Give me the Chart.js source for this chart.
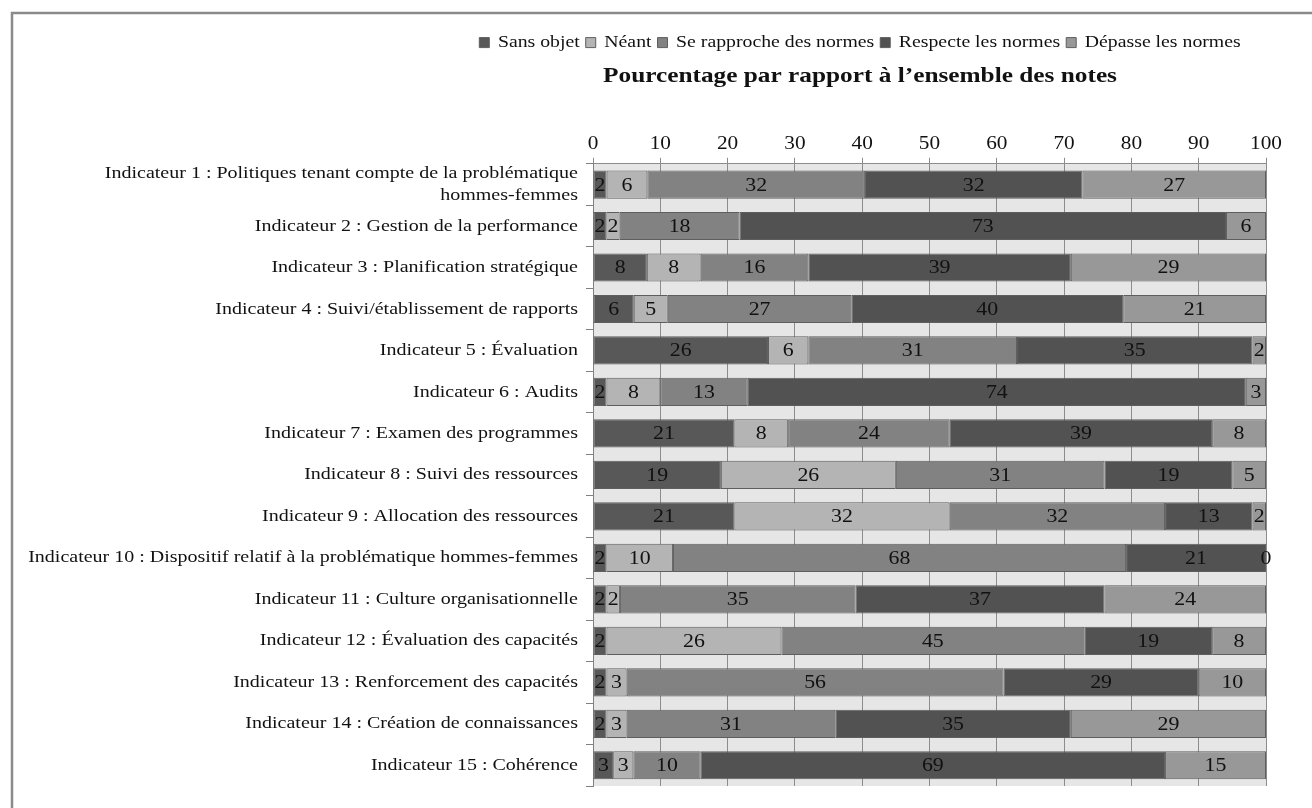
<!DOCTYPE html>
<html>
<head>
<meta charset="utf-8">
<script src="https://cdn.jsdelivr.net/npm/chart.js@4.4.1/dist/chart.umd.min.js"></script>
<style>
  html, body { margin: 0; padding: 0; background: #fff; }
  #wrap { width: 1312px; height: 808px; position: relative; }
</style>
</head>
<body>
<div id="wrap"><canvas id="c" width="1312" height="808"></canvas></div>
<script>
// Indicators (category axis)
const categories = [
  ['Indicateur 1 : Politiques tenant compte de la problématique', 'hommes-femmes'],
  'Indicateur 2 : Gestion de la performance',
  'Indicateur 3 : Planification stratégique',
  'Indicateur 4 : Suivi/établissement de rapports',
  'Indicateur 5 : Évaluation',
  'Indicateur 6 : Audits',
  'Indicateur 7 : Examen des programmes',
  'Indicateur 8 : Suivi des ressources',
  'Indicateur 9 : Allocation des ressources',
  'Indicateur 10 : Dispositif relatif à la problématique hommes-femmes',
  'Indicateur 11 : Culture organisationnelle',
  'Indicateur 12 : Évaluation des capacités',
  'Indicateur 13 : Renforcement des capacités',
  'Indicateur 14 : Création de connaissances',
  'Indicateur 15 : Cohérence'
];

// Rating shares per indicator (percent of all ratings)
const sansObjet   = [2, 2, 8, 6, 26, 2, 21, 19, 21, 2, 2, 2, 2, 2, 3];
const neant       = [6, 2, 8, 5, 6, 8, 8, 26, 32, 10, 2, 26, 3, 3, 3];
const seRapproche = [32, 18, 16, 27, 31, 13, 24, 31, 32, 68, 35, 45, 56, 31, 10];
const respecte    = [32, 73, 39, 40, 35, 74, 39, 19, 13, 21, 37, 19, 29, 35, 69];
const depasse     = [27, 6, 29, 21, 2, 3, 8, 5, 2, 0, 24, 8, 10, 29, 15];

const seriesNames = ['Sans objet', 'Néant', 'Se rapproche des normes', 'Respecte les normes', 'Dépasse les normes'];
const seriesValues = [sansObjet, neant, seRapproche, respecte, depasse];
const seriesColors = ['#585858', '#b4b4b4', '#828282', '#525252', '#989898'];

// Axis ticks
const xTicks = [0, 10, 20, 30, 40, 50, 60, 70, 80, 90, 100];

// 100% stacked: each bar is scaled so its segments fill the whole row
const totals = categories.map((_, i) => seriesValues.reduce((s, arr) => s + arr[i], 0));

const SERIF = '"Liberation Serif", "Times New Roman", serif';
const TEXT_STRETCH = 1.15;   // wide-set serif lettering

const canvas = document.getElementById('c');
const ctx2d = canvas.getContext('2d');
const nativeFill = CanvasRenderingContext2D.prototype.fillText;
const nativeMeasure = CanvasRenderingContext2D.prototype.measureText;
ctx2d.fillText = function (text, x, y, maxWidth) {
  this.save();
  this.translate(x, y);
  this.scale(TEXT_STRETCH, 1);
  if (maxWidth !== undefined) nativeFill.call(this, text, 0, 0, maxWidth / TEXT_STRETCH);
  else nativeFill.call(this, text, 0, 0);
  this.restore();
};
ctx2d.measureText = function (text) {
  const m = nativeMeasure.call(this, text);
  return {
    width: m.width * TEXT_STRETCH,
    actualBoundingBoxAscent: m.actualBoundingBoxAscent,
    actualBoundingBoxDescent: m.actualBoundingBoxDescent,
    actualBoundingBoxLeft: m.actualBoundingBoxLeft * TEXT_STRETCH,
    actualBoundingBoxRight: m.actualBoundingBoxRight * TEXT_STRETCH
  };
};

const datasets = seriesNames.map((name, k) => ({
  label: name,
  raw: seriesValues[k],
  data: seriesValues[k].map((v, i) => v / totals[i] * 100),
  backgroundColor: seriesColors[k],
  borderColor: '#5e5e5e',
  borderWidth: 1,
  borderSkipped: false,
  categoryPercentage: 1,
  barPercentage: 0.68
}));

// Frame lines and plot-area fill
const framePlugin = {
  id: 'frame',
  beforeDraw(chart) {
    const { ctx, chartArea: a } = chart;
    ctx.save();
    ctx.fillStyle = '#e6e6e6';
    ctx.fillRect(a.left, a.top, a.right - a.left, a.bottom - a.top);
    ctx.strokeStyle = '#8a8a8a';
    ctx.lineWidth = 2.5;
    ctx.beginPath();
    ctx.moveTo(12, 808);
    ctx.lineTo(12, 13);
    ctx.lineTo(1312, 13);
    ctx.stroke();
    ctx.restore();
  }
};

// Legend and title are centred over the span from the labels to the plot's right edge
const HEADER_LEFT = 454;
const headerPlugin = {
  id: 'header',
  afterLayout(chart) {
    [chart.legend, chart.titleBlock].forEach(b => {
      if (!b) return;
      const right = b.right;
      b.left = HEADER_LEFT;
      b.width = right - HEADER_LEFT;
    });
  }
};

// Value labels centred on each segment
const valueLabels = {
  id: 'valueLabels',
  afterDatasetsDraw(chart) {
    const { ctx } = chart;
    ctx.save();
    ctx.font = '19px ' + SERIF;
    ctx.fillStyle = '#111';
    ctx.textAlign = 'center';
    ctx.textBaseline = 'middle';
    chart.data.datasets.forEach((ds, k) => {
      const meta = chart.getDatasetMeta(k);
      meta.data.forEach((bar, i) => {
        const p = bar.getCenterPoint();
        ctx.fillText(String(ds.raw[i]), p.x, p.y + 1);
      });
    });
    ctx.restore();
  }
};

const PLOT_LEFT = 593;

new Chart(canvas, {
  type: 'bar',
  data: { labels: categories, datasets },
  options: {
    indexAxis: 'y',
    responsive: false,
    animation: false,
    devicePixelRatio: 1,
    layout: { padding: { left: 0, right: 46, top: 28, bottom: 22 } },
    plugins: {
      legend: {
        position: 'top',
        weight: 3000,
        labels: {
          boxWidth: 10,
          boxHeight: 10,
          padding: 6,
          color: '#111',
          font: { family: SERIF, size: 17.2 }
        }
      },
      title: {
        display: true,
        text: 'Pourcentage par rapport à l’ensemble des notes',
        color: '#111',
        font: { family: SERIF, size: 22, weight: 'bold' },
        padding: { top: 2, bottom: 40 }
      },
      tooltip: { enabled: false }
    },
    scales: {
      x: {
        type: 'linear',
        position: 'top',
        stacked: true,
        min: 0,
        max: 100,
        afterBuildTicks(scale) { scale.ticks = xTicks.map(v => ({ value: v })); },
        ticks: { color: '#111', font: { family: SERIF, size: 18.5 }, padding: 3 },
        grid: { color: '#8c8c8c', lineWidth: 1, tickLength: 6 },
        border: { color: '#8c8c8c', width: 1 }
      },
      y: {
        type: 'category',
        stacked: true,
        offset: true,
        afterFit(scale) {
          scale.width = PLOT_LEFT;
          scale.paddingTop = 0;
          scale.paddingBottom = 0;
        },
        ticks: { color: '#111', font: { family: SERIF, size: 17.4, lineHeight: 1.27 }, padding: 8, autoSkip: false },
        grid: { offset: true, drawOnChartArea: false, color: '#808080', tickLength: 7 },
        border: { color: '#808080', width: 1 }
      }
    }
  },
  plugins: [framePlugin, headerPlugin, valueLabels]
});
</script>
</body>
</html>
